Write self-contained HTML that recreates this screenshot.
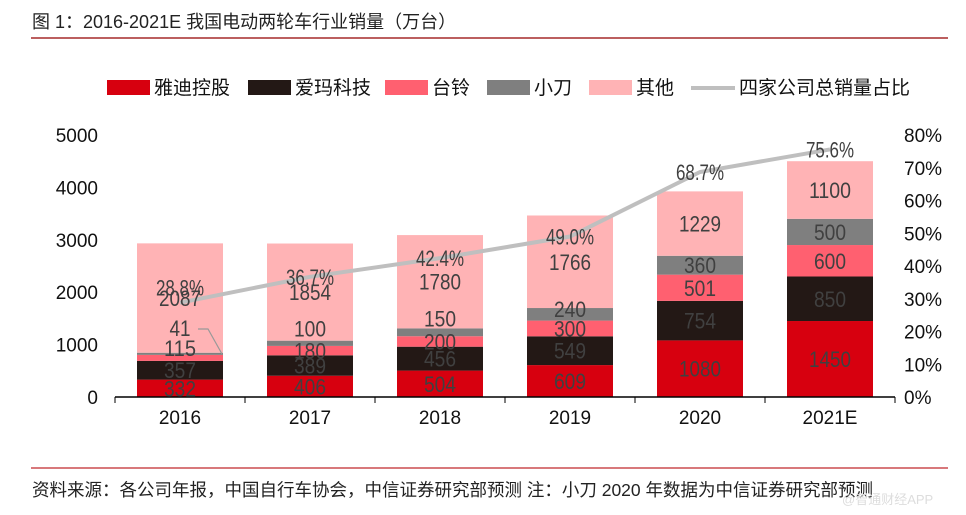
<!DOCTYPE html>
<html><head><meta charset="utf-8">
<style>
body{margin:0;background:#fff;width:966px;height:510px;overflow:hidden;font-family:"Liberation Sans","Noto Sans CJK SC",sans-serif;}
svg text{font-family:"Liberation Sans","Noto Sans CJK SC",sans-serif;}
</style></head>
<body>
<svg id="c" width="966" height="510" xmlns="http://www.w3.org/2000/svg">
<text x="32" y="28" font-size="18" fill="#222">图 1：2016-2021E 我国电动两轮车行业销量（万台）</text>
<line x1="31" y1="38" x2="948" y2="38" stroke="#a52a2a" stroke-width="1.5"/>
<g id="legend"></g>
<g id="plot"></g>
<line x1="31" y1="468" x2="948" y2="468" stroke="#c0282c" stroke-width="1.2"/>
<text x="32" y="496" font-size="17.5" fill="#222">资料来源：各公司年报，中国自行车协会，中信证券研究部预测  注：小刀 2020 年数据为中信证券研究部预测</text>
<text x="842" y="504" font-size="13" fill="#ddd">@智通财经APP</text>
</svg>
<script>
const categories=["2016","2017","2018","2019","2020","2021E"];
const seriesNames=["雅迪控股","爱玛科技","台铃","小刀","其他"];
const yadea=[332,406,504,609,1080,1450];
const aima=[357,389,456,549,754,850];
const tailg=[115,180,200,300,501,600];
const xiaodao=[41,100,150,240,360,500];
const others=[2087,1854,1780,1766,1229,1100];
const share=[28.8,36.7,42.4,49.0,68.7,75.6];
const leftTicks=[0,1000,2000,3000,4000,5000];
const rightTicks=[0,10,20,30,40,50,60,70,80];
const colors=["#d7000f","#231815","#ff6070","#7f7f7f","#ffb3b5"];
const lineColor="#bfbfbf";
const NS="http://www.w3.org/2000/svg";
const plot=document.getElementById('plot');
const legend=document.getElementById('legend');
const X0=115,X1=895,Y0=397,Y1=135;
const band=(X1-X0)/categories.length;
const xc=i=>X0+band*(i+0.5);
const yL=v=>Y0-(v/5000)*(Y0-Y1);
const yR=v=>Y0-(v/80)*(Y0-Y1);
function mk(t,a,p){const e=document.createElementNS(NS,t);for(const k in a)e.setAttribute(k,a[k]);(p||plot).appendChild(e);return e;}
leftTicks.forEach(v=>{const t=mk('text',{x:98,y:yL(v)+7,'font-size':19,'text-anchor':'end',fill:'#111'});t.textContent=v;

});
rightTicks.forEach(v=>{const t=mk('text',{x:904,y:yR(v)+7,'font-size':19,fill:'#111'});t.textContent=v+'%';

});
const data=[yadea,aima,tailg,xiaodao,others];
const bw=86;
categories.forEach((c,i)=>{
  let acc=0;
  data.forEach((s,k)=>{
    const r=mk('rect',{x:xc(i)-bw/2,y:yL(acc+s[i]),width:bw,height:yL(acc)-yL(acc+s[i]),fill:colors[k]});
    
    
    acc+=s[i];
  });
  const t=mk('text',{x:xc(i),y:424,'font-size':19,'text-anchor':'middle',fill:'#111'});t.textContent=c;
  
  
});
const ax=mk('line',{x1:X0,y1:Y0,x2:X1,y2:Y0,stroke:'#000','stroke-width':1.5});


for(let i=0;i<=categories.length;i++){mk('line',{x1:X0+band*i,y1:Y0,x2:X0+band*i,y2:Y0+6,stroke:'#000'});}
const pts=share.map((v,i)=>xc(i)+','+yR(v)).join(' ');
const pl=mk('polyline',{points:pts,fill:'none',stroke:lineColor,'stroke-width':4});


categories.forEach((c,i)=>{
  let acc=0;
  data.forEach((s,k)=>{
    let cy=(yL(acc)+yL(acc+s[i]))/2;
    if(i===0&&k===2)cy=348;
    if(i===0&&k===3)cy=328;
    if(i===1&&k===3)cy=yL(acc+s[i])-12;
    if(i===2&&k===3)cy=yL(acc+s[i])-10;
    if(i===3&&k===3)cy=yL(acc+s[i])+1;
    const t=mk('text',{x:xc(i),y:cy+8,'font-size':22,'text-anchor':'middle',fill:'#404040','textLength':s[i]>=1000?42:(s[i]>=100?32:21),lengthAdjust:'spacingAndGlyphs'});
    t.textContent=s[i];
    
    
    acc+=s[i];
  });
  const cy=i===0?yR(share[i])-15:yR(share[i]);
  const p=mk('text',{x:xc(i),y:cy+8,'font-size':22,'text-anchor':'middle',fill:'#404040',textLength:48,lengthAdjust:'spacingAndGlyphs'});
  p.textContent=share[i].toFixed(1)+'%';
  
  
});
mk('polyline',{points:'198,329 208,329 222,354',fill:'none',stroke:'#999','stroke-width':1.2});
const lx=[107,248,385,487,589];
seriesNames.forEach((n,k)=>{
  const r=mk('rect',{x:lx[k],y:80,width:43,height:15,fill:colors[k]},legend);
  
  
  const t=mk('text',{x:lx[k]+47,y:94,'font-size':19,fill:'#111'},legend);t.textContent=n;
  
  
});
const ll=mk('line',{x1:691,y1:88,x2:735,y2:88,stroke:lineColor,'stroke-width':4},legend);


const lt=mk('text',{x:739,y:94,'font-size':19,fill:'#111'},legend);lt.textContent='四家公司总销量占比';


</script>
</body></html>
